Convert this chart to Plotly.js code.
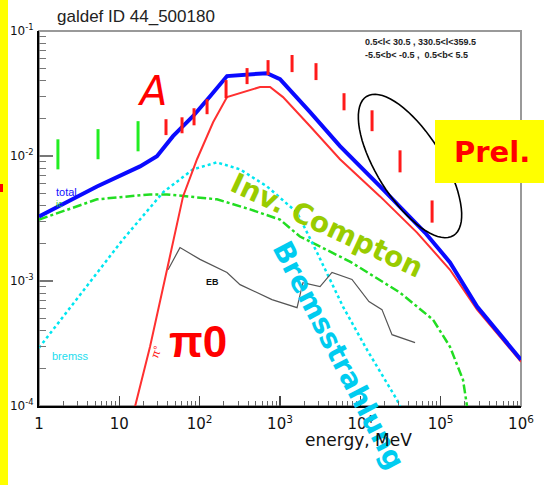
<!DOCTYPE html>
<html>
<head>
<meta charset="utf-8">
<script src="https://cdn.plot.ly/plotly-3.0.1.min.js"></script>
<style>html,body{margin:0;padding:0;background:#fff;}#chart{width:544px;height:485px;}</style>
</head>
<body>
<div id="chart"></div>
<script>
// ---- data (energy in MeV, intensity) ----
var totalE = [1, 5.27, 18.1, 29.4, 46.6, 82.6, 135, 219, 689, 1000, 2370, 5580, 17600, 36000, 63800, 130600, 284000, 1000000];
var totalY = [3.28e-3, 5.71e-3, 8.26e-3, 9.95e-3, 1.44e-2, 2.08e-2, 3.01e-2, 4.36e-2, 4.60e-2, 4.12e-2, 2.24e-2, 1.20e-2, 5.71e-3, 3.53e-3, 2.44e-3, 1.41e-3, 6.24e-4, 2.34e-4];

var pi0E = [14.5, 15.7, 24.1, 39.2, 62.1, 92.7, 147, 219, 564, 752, 1090, 2370, 5580, 17600, 50800, 130600, 284000, 1000000];
var pi0Y = [8.1e-5, 1.0e-4, 2.98e-4, 1.23e-3, 4.75e-3, 9.42e-3, 1.86e-2, 2.96e-2, 3.56e-2, 3.56e-2, 2.96e-2, 1.73e-2, 9.42e-3, 4.75e-3, 2.44e-3, 1.23e-3, 5.90e-4, 2.26e-4];

var bremE = [1, 5.74, 11.1, 35.0, 82.6, 164, 318, 689, 1630, 2890, 6080, 12100, 28600, 39800];
var bremY = [2.92e-4, 1.23e-3, 2.15e-3, 5.12e-3, 7.82e-3, 8.89e-3, 7.82e-3, 5.71e-3, 3.53e-3, 1.69e-3, 6.24e-4, 2.82e-4, 1.12e-4, 7.1e-5];

var icE = [1, 5.27, 24.1, 39.2, 164, 424, 1000, 1770, 7430, 31200, 80400, 130600, 189700, 212800, 219000];
var icY = [3.10e-3, 4.50e-3, 4.93e-3, 4.93e-3, 4.50e-3, 3.74e-3, 3.10e-3, 2.27e-3, 1.43e-3, 8.07e-4, 4.90e-4, 2.98e-4, 1.62e-4, 1.0e-4, 6.3e-5];

var ebE = [40.4, 56.9, 101, 219, 318, 794, 1630, 1930, 3150, 4440, 7870, 12800, 18600, 24800, 48000];
var ebY = [1.23e-3, 1.85e-3, 1.49e-3, 1.17e-3, 9.35e-4, 7.10e-4, 6.12e-4, 9.70e-4, 9.02e-4, 1.17e-3, 1.03e-3, 6.84e-4, 5.90e-4, 3.72e-4, 3.21e-4];

var comptelE  = [1.72, 5.43, 17.1];
var comptelLo = [7.82e-3, 9.42e-3, 1.09e-2];
var comptelHi = [1.36e-2, 1.64e-2, 1.90e-2];

var egretE  = [38.1, 60.3, 85.1, 123.6, 213, 389, 710, 1413, 2806, 6266, 13990, 31200, 78200];
var egretLo = [1.47e-2, 1.52e-2, 1.76e-2, 2.16e-2, 2.90e-2, 3.76e-2, 4.44e-2, 4.69e-2, 4.05e-2, 2.32e-2, 1.58e-2, 7.40e-3, 2.93e-3];
var egretHi = [1.97e-2, 2.04e-2, 2.41e-2, 2.85e-2, 4.05e-2, 5.05e-2, 5.85e-2, 6.43e-2, 5.53e-2, 3.18e-2, 2.32e-2, 1.11e-2, 4.41e-3];

var xTickVals = [1, 10, 100, 1000, 10000, 100000, 1000000];
var xTickText = ['1', '10', '10<sup>2</sup>', '10<sup>3</sup>', '10<sup>4</sup>', '10<sup>5</sup>', '10<sup>6</sup>'];
var yTickVals = [1e-4, 1e-3, 1e-2, 1e-1];
var yTickText = ['10<sup>-4</sup>', '10<sup>-3</sup>', '10<sup>-2</sup>', '10<sup>-1</sup>'];

// ---- helpers ----
function segs(xs, lo, hi) {
  var x = [], y = [];
  for (var i = 0; i < xs.length; i++) { x.push(xs[i], xs[i], null); y.push(lo[i], hi[i], null); }
  return {x: x, y: y};
}
function minorVals(d0, d1) {
  var v = [];
  for (var d = d0; d < d1; d++) for (var k = 2; k <= 9; k++) v.push(k * Math.pow(10, d));
  return v;
}
// plot-area geometry (pixels) for placing decorations
var L = 39, T = 31, W = 482, H = 375, FW = 544, FH = 485;
function px(x) { return (x - L) / W; }
function py(y) { return (T + H - y) / H; }

var cg = segs(comptelE, comptelLo, comptelHi);
var eg = segs(egretE, egretLo, egretHi);

var traces = [
  {x: icE, y: icY, mode: 'lines', line: {color: '#22dd22', width: 2.5, dash: 'dashdot'}},
  {x: bremE, y: bremY, mode: 'lines', line: {color: '#00e6f0', width: 2.5, dash: 'dot'}},
  {x: ebE, y: ebY, mode: 'lines', line: {color: '#555555', width: 1.2}},
  {x: pi0E, y: pi0Y, mode: 'lines', line: {color: '#ff3030', width: 2}},
  {x: totalE, y: totalY, mode: 'lines', line: {color: '#0a0aff', width: 4}},
  {x: cg.x, y: cg.y, mode: 'lines', connectgaps: false, line: {color: '#22ee22', width: 3}},
  {x: eg.x, y: eg.y, mode: 'lines', connectgaps: false, line: {color: '#ff1a1a', width: 3}}
];

// ellipse path (paper coords)
var ecx = 410, ecy = 166, ea = 82, eb = 33, eth = 58 * Math.PI / 180;
var path = '';
for (var i = 0; i <= 72; i++) {
  var t = i / 72 * 2 * Math.PI;
  var xx = ecx + ea * Math.cos(t) * Math.cos(eth) - eb * Math.sin(t) * Math.sin(eth);
  var yy = ecy + ea * Math.cos(t) * Math.sin(eth) + eb * Math.sin(t) * Math.cos(eth);
  path += (i === 0 ? 'M' : 'L') + px(xx).toFixed(4) + ',' + py(yy).toFixed(4);
}
path += 'Z';

var shapes = [
  {type: 'rect', xref: 'paper', yref: 'paper', x0: 0, x1: 1, y0: 0, y1: 1, line: {color: '#999999', width: 2}, layer: 'below'},
  {type: 'rect', xref: 'paper', yref: 'paper', x0: px(0), x1: px(8), y0: py(-2), y1: py(487), fillcolor: '#ffff00', line: {width: 0}},
  {type: 'rect', xref: 'paper', yref: 'paper', x0: px(0), x1: px(3), y0: py(184), y1: py(192), fillcolor: '#ff0000', line: {width: 0}},
  {type: 'path', xref: 'paper', yref: 'paper', path: path, line: {color: '#000000', width: 1.6}},
  {type: 'rect', xref: 'paper', yref: 'paper', x0: px(435), x1: px(546), y0: py(120), y1: py(183), fillcolor: '#ffff00', line: {width: 0}, layer: 'above'}
];

function ann(x, y, text, font, extra) {
  var a = {xref: 'paper', yref: 'paper', x: px(x), y: py(y), text: text, showarrow: false,
           xanchor: 'center', yanchor: 'middle', font: font};
  if (extra) for (var k in extra) a[k] = extra[k];
  return a;
}
var annotations = [
  ann(152, 91, 'A', {family: 'DejaVu Sans', size: 40, color: '#ff0000', style: 'italic'}),
  ann(492, 152, '<b>Prel.</b>', {family: 'DejaVu Sans', size: 29, color: '#ff0000'}),
  ann(327, 225, '<b>Inv. Compton</b>', {family: 'DejaVu Sans', size: 28, color: '#99cc00'}, {textangle: 25}),
  ann(339, 355, '<b>Bremsstrahlung</b>', {family: 'DejaVu Sans', size: 28, color: '#00ccf0'}, {textangle: 62.5}),
  ann(198, 341, '<b>π0</b>', {family: 'Liberation Sans', size: 44, color: '#ff0000'}),
  ann(156, 352, 'π°', {family: 'Liberation Sans', size: 11, color: '#ff2020'}, {textangle: -70}),
  ann(66, 192, 'total', {family: 'Liberation Sans', size: 11, color: '#1010ff'}),
  ann(59, 204, 'ic', {family: 'Liberation Sans', size: 9, color: '#22cc22'}),
  ann(70, 356, 'bremss', {family: 'Liberation Sans', size: 11, color: '#22ddee'}),
  ann(212, 282, '<b>EB</b>', {family: 'Liberation Sans', size: 9, color: '#111111'}),
  ann(420, 42, '<b>0.5&lt;l&lt; 30.5 , 330.5&lt;l&lt;359.5</b>', {family: 'Liberation Sans', size: 9, color: '#222222'}),
  ann(416, 55, '<b>-5.5&lt;b&lt; -0.5 ,  0.5&lt;b&lt; 5.5</b>', {family: 'Liberation Sans', size: 9, color: '#222222'}),
  ann(358, 440, 'energy, MeV', {family: 'DejaVu Sans', size: 17, color: '#111111'})
];

var layout = {
  width: FW, height: FH,
  margin: {l: L, r: FW - L - W, t: T, b: FH - T - H, pad: 0},
  paper_bgcolor: '#ffffff', plot_bgcolor: '#ffffff',
  showlegend: false,
  title: {text: 'galdef ID 44_500180', xref: 'container', yref: 'container', x: 57 / FW, xanchor: 'left',
          y: 1 - 16 / FH, yanchor: 'middle', font: {family: 'Liberation Sans', size: 17, color: '#222222'}},
  xaxis: {type: 'log', range: [0, 6], showgrid: false, zeroline: false,
          showline: true, linecolor: '#000000', linewidth: 2, mirror: false,
          ticks: 'inside', ticklen: 10, tickwidth: 1.3, tickcolor: '#444444',
          tickmode: 'array', tickvals: xTickVals, ticktext: xTickText, ticklabelstandoff: 3,
          tickfont: {family: 'DejaVu Sans', size: 15, color: '#111111'},
          minor: {tickmode: 'array', tickvals: minorVals(0, 6), ticks: 'inside', ticklen: 5, tickcolor: '#666666', tickwidth: 1, showgrid: false}},
  yaxis: {type: 'log', range: [-4, -1], showgrid: false, zeroline: false,
          showline: true, linecolor: '#000000', linewidth: 2, mirror: false,
          ticks: 'inside', ticklen: 14, tickwidth: 1.3, tickcolor: '#777777',
          tickmode: 'array', tickvals: yTickVals, ticktext: yTickText, ticklabelstandoff: 1,
          tickfont: {family: 'DejaVu Sans', size: 12, color: '#111111'},
          minor: {tickmode: 'array', tickvals: minorVals(-4, -1), ticks: 'inside', ticklen: 7, tickcolor: '#777777', tickwidth: 1, showgrid: false}},
  shapes: shapes,
  annotations: annotations
};

Plotly.newPlot('chart', traces, layout, {displayModeBar: false, staticPlot: true});
</script>
</body>
</html>
